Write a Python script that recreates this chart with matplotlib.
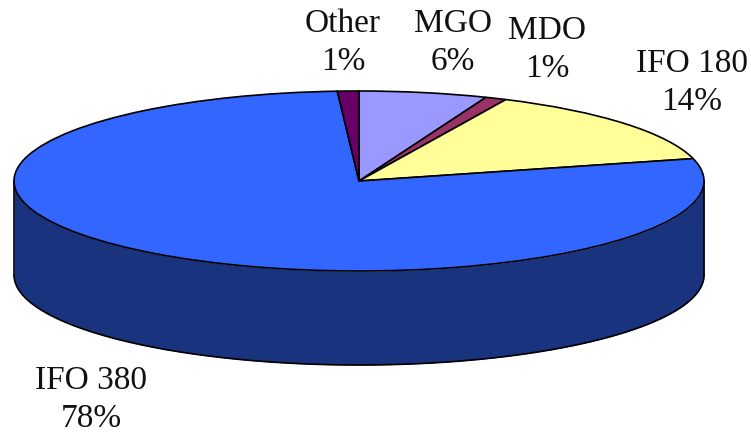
import numpy as np
import matplotlib
matplotlib.use('Agg')
import matplotlib.pyplot as plt

labels = ['MGO', 'MDO', 'IFO 180', 'IFO 380', 'Other']
shares = [6, 1, 14, 78, 1]
colors = ['#9999FF', '#993366', '#FFFF99', '#3366FF', '#660066']
wall_color = '#19337F'

W, H = 751, 433
cx, cy = 359, 181    # centre of the top ellipse, px
rx, ry = 345, 90
depth = 94

plt.rcParams['font.family'] = ['Liberation Serif', 'DejaVu Serif']
fs = 24
lw = 1.2

fig = plt.figure(figsize=(W/100, H/100), dpi=100)

# pie is squashed by letting the axes have a flat box
ax = fig.add_axes([(cx-rx)/W, 1-(cy+ry)/H, 2*rx/W, 2*ry/H])
ax.pie(shares, colors=colors, startangle=90, counterclock=False, radius=1,
       wedgeprops=dict(edgecolor='black', linewidth=lw))
ax.set_aspect('auto')
ax.set_xlim(-1, 1)
ax.set_ylim(-1, 1)
ax.axis('off')
for w in ax.patches:
    w.set_clip_on(False)
    w.set_zorder(3)

# side wall below the front half
t = np.linspace(np.pi, 2*np.pi, 200)
xs = np.cos(t)
top = np.sin(t)
d = depth/ry
ax.fill_between(xs, top, top-d, color=wall_color, clip_on=False, zorder=2, lw=0)
ax.plot(xs, top-d, color='black', lw=lw, clip_on=False, zorder=2)
ax.plot([-1, -1], [0, -d], color='black', lw=lw, clip_on=False, zorder=2)
ax.plot([1, 1], [0, -d], color='black', lw=lw, clip_on=False, zorder=2)

# slice labels, positions in px
label_pos = {'Other': (343, 43), 'MGO': (453, 43), 'MDO': (547, 50),
             'IFO 180': (692, 83), 'IFO 380': (91, 400)}
for name, share in zip(labels, shares):
    px, py = label_pos[name]
    fig.text(px/W, 1-py/H, f'{name}\n{share}%', ha='center', va='center',
             fontsize=fs, color='#111111', linespacing=1.34)

fig.savefig('out.png', dpi=100)
